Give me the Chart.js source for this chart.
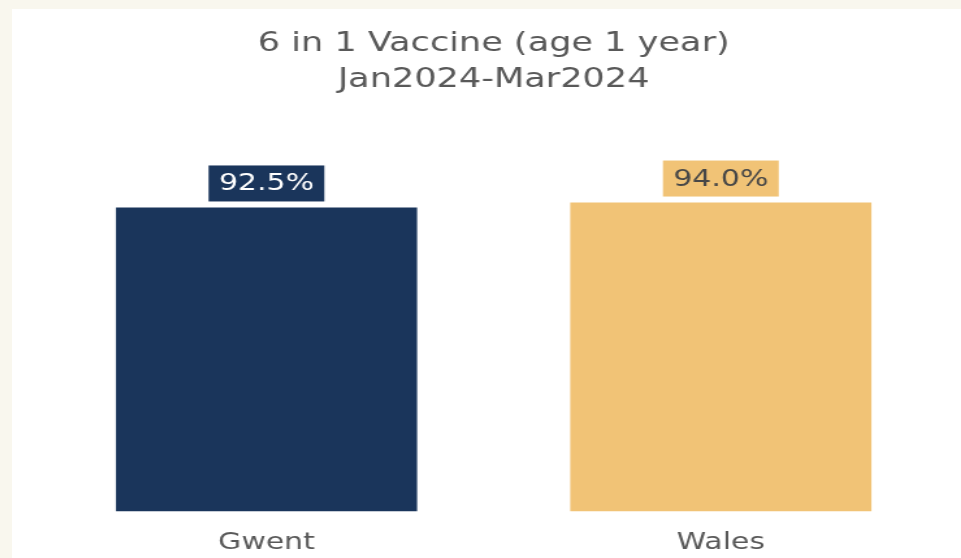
<!DOCTYPE html>
<html>
<head>
<meta charset="utf-8">
<script src="https://cdn.jsdelivr.net/npm/chart.js@4"></script>
<style>
    html, body { margin: 0; padding: 0; background: #f9f7ee; overflow: hidden; }
    #panel { position: absolute; left: 12px; top: 9px; width: 949px; height: 549px; background: #fff; overflow: hidden; }
    /* the source picture is stretched sideways, so the chart is drawn narrow and widened */
    #wrap { width: 730px; height: 549px; transform: scaleX(1.3); transform-origin: 0 0; }
</style>
</head>
<body>
<div id="panel"><div id="wrap"><canvas id="chart-vaccine"></canvas></div></div>
<script>
const areas = ['Gwent', 'Wales']
const uptake = [92.5, 94.0]
const barColors = ['#1a355b', '#f1c376']
const labelColors = ['#ffffff', '#474747']
const titleLines = ['6 in 1 Vaccine (age 1 year)', 'Jan2024-Mar2024']

Chart.defaults.font.family = "'DejaVu Sans', Verdana, sans-serif"
Chart.defaults.color = '#595959'

// value boxes over each bar
const valueBoxes = {
    id: 'valueBoxes',
    afterDatasetsDraw(chart) {
        const ctx = chart.ctx
        const meta = chart.getDatasetMeta(0)
        ctx.save()
        ctx.font = "23px 'DejaVu Sans', Verdana, sans-serif"
        ctx.textAlign = 'center'
        ctx.textBaseline = 'middle'
        meta.data.forEach((bar, i) => {
            const text = uptake[i].toFixed(1) + '%'
            const w = ctx.measureText(text).width + 16
            const h = 36
            const bottom = bar.y - 6
            ctx.fillStyle = barColors[i]
            ctx.fillRect(bar.x - w / 2, bottom - h, w, h)
            ctx.fillStyle = labelColors[i]
            ctx.fillText(text, bar.x, bottom - h / 2 + 1)
        })
        ctx.restore()
    }
}

let data = {
    labels: areas,
    datasets: [{
        data: uptake,
        backgroundColor: barColors,
        borderWidth: 0,
        barPercentage: 0.663,
        categoryPercentage: 1
    }]
}

let options = {
    responsive: true,
    maintainAspectRatio: false,
    animation: false,
    layout: {
        padding: { left: 21, right: 10, top: 0, bottom: -17 }
    },
    scales: {
        x: {
            grid: { display: false, drawTicks: false },
            border: { display: false },
            ticks: {
                padding: 18,
                color: '#595959',
                font: { size: 23 }
            }
        },
        y: {
            display: false,
            min: 0,
            max: 100
        }
    },
    plugins: {
        legend: { display: false },
        tooltip: { enabled: false },
        title: {
            display: true,
            fullSize: false,
            text: titleLines,
            color: '#595959',
            font: { size: 27, weight: 'normal', lineHeight: 1.33 },
            padding: { top: 17, bottom: 85 }
        }
    }
}

new Chart('chart-vaccine', { type: 'bar', data, options, plugins: [valueBoxes] })
</script>
</body>
</html>
